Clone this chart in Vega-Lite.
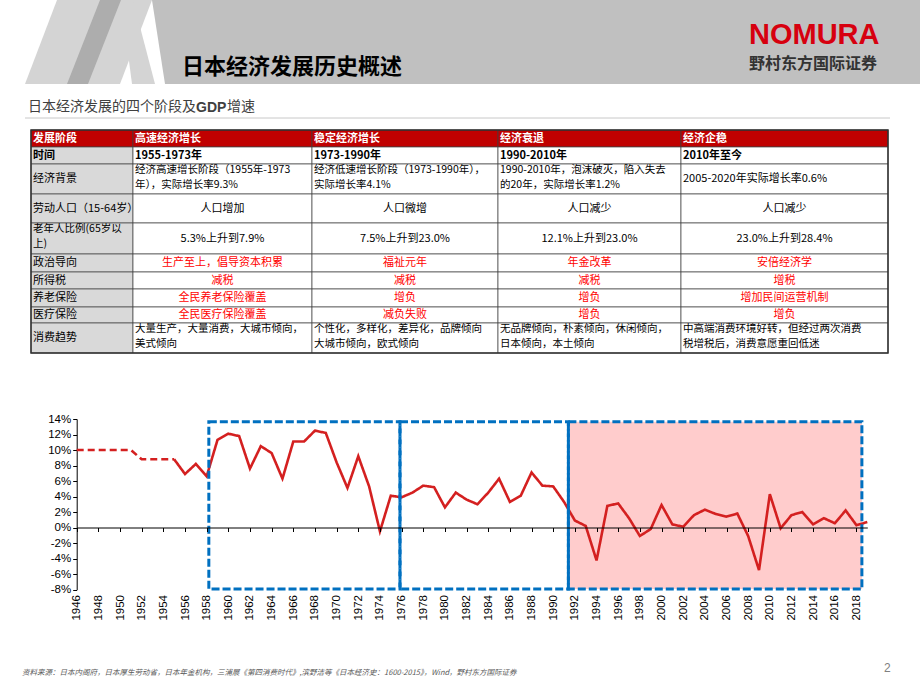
{
  "$schema": "https://vega.github.io/schema/vega-lite/v6.json",
  "width": 920,
  "height": 690,
  "autosize": {"type": "none"},
  "padding": 0,
  "background": "white",
  "config": {"view": {"stroke": null}},
  "datasets": {
    "deco": [
      {"s": "D", "y": 0, "xl": 152, "xr": 920}, {"s": "D", "y": 84, "xl": 165, "xr": 920},
      {"s": "A", "y": 0, "xl": 57, "xr": 152}, {"s": "A", "y": 84, "xl": 25, "xr": 120},
      {"s": "E", "y": 0, "xl": 121, "xr": 133}, {"s": "E", "y": 84, "xl": 132, "xr": 155},
      {"s": "B", "y": 0, "xl": 100, "xr": 121}, {"s": "B", "y": 84, "xl": 67, "xr": 88}
    ],
    "cells": [
      {"r": 0, "c": 0, "t": "发展阶段"}, {"r": 0, "c": 1, "t": "高速经济增长"}, {"r": 0, "c": 2, "t": "稳定经济增长"}, {"r": 0, "c": 3, "t": "经济衰退"}, {"r": 0, "c": 4, "t": "经济企稳"},
      {"r": 1, "c": 0, "t": "时间"}, {"r": 1, "c": 1, "t": "1955-1973年"}, {"r": 1, "c": 2, "t": "1973-1990年"}, {"r": 1, "c": 3, "t": "1990-2010年"}, {"r": 1, "c": 4, "t": "2010年至今"},
      {"r": 2, "c": 0, "t": "经济背景"}, {"r": 2, "c": 1, "t": "经济高速增长阶段（1955年-1973\n年），实际增长率9.3%"}, {"r": 2, "c": 2, "t": "经济低速增长阶段（1973-1990年），\n实际增长率4.1%"}, {"r": 2, "c": 3, "t": "1990-2010年，泡沫破灭，陷入失去\n的20年，实际增长率1.2%"}, {"r": 2, "c": 4, "t": "2005-2020年实际增长率0.6%"},
      {"r": 3, "c": 0, "t": "劳动人口（15-64岁）"}, {"r": 3, "c": 1, "t": "人口增加"}, {"r": 3, "c": 2, "t": "人口微增"}, {"r": 3, "c": 3, "t": "人口减少"}, {"r": 3, "c": 4, "t": "人口减少"},
      {"r": 4, "c": 0, "t": "老年人比例(65岁以\n上)"}, {"r": 4, "c": 1, "t": "5.3%上升到7.9%"}, {"r": 4, "c": 2, "t": "7.5%上升到23.0%"}, {"r": 4, "c": 3, "t": "12.1%上升到23.0%"}, {"r": 4, "c": 4, "t": "23.0%上升到28.4%"},
      {"r": 5, "c": 0, "t": "政治导向"}, {"r": 5, "c": 1, "t": "生产至上，倡导资本积累"}, {"r": 5, "c": 2, "t": "福祉元年"}, {"r": 5, "c": 3, "t": "年金改革"}, {"r": 5, "c": 4, "t": "安倍经济学"},
      {"r": 6, "c": 0, "t": "所得税"}, {"r": 6, "c": 1, "t": "减税"}, {"r": 6, "c": 2, "t": "减税"}, {"r": 6, "c": 3, "t": "减税"}, {"r": 6, "c": 4, "t": "增税"},
      {"r": 7, "c": 0, "t": "养老保险"}, {"r": 7, "c": 1, "t": "全民养老保险覆盖"}, {"r": 7, "c": 2, "t": "增负"}, {"r": 7, "c": 3, "t": "增负"}, {"r": 7, "c": 4, "t": "增加民间运营机制"},
      {"r": 8, "c": 0, "t": "医疗保险"}, {"r": 8, "c": 1, "t": "全民医疗保险覆盖"}, {"r": 8, "c": 2, "t": "减负失败"}, {"r": 8, "c": 3, "t": "增负"}, {"r": 8, "c": 4, "t": "增负"},
      {"r": 9, "c": 0, "t": "消费趋势"}, {"r": 9, "c": 1, "t": "大量生产，大量消费，大城市倾向，\n美式倾向"}, {"r": 9, "c": 2, "t": "个性化，多样化，差异化，品牌倾向\n大城市倾向，欧式倾向"}, {"r": 9, "c": 3, "t": "无品牌倾向，朴素倾向，休闲倾向，\n日本倾向，本土倾向"}, {"r": 9, "c": 4, "t": "中高端消费环境好转，但经过两次消费\n税增税后，消费意愿重回低迷"}
    ],
    "gdp": [
      {"year": 1946, "g": 10.0, "seg": "est"}, {"year": 1947, "g": 10.0, "seg": "est"}, {"year": 1948, "g": 10.0, "seg": "est"}, {"year": 1949, "g": 10.0, "seg": "est"}, {"year": 1950, "g": 10.0, "seg": "est"}, {"year": 1951, "g": 10.0, "seg": "est"}, {"year": 1952, "g": 8.8, "seg": "est"}, {"year": 1953, "g": 8.8, "seg": "est"}, {"year": 1954, "g": 8.8, "seg": "est"}, {"year": 1955, "g": 8.8, "seg": "est"},
      {"year": 1955, "g": 8.8, "seg": "act"}, {"year": 1956, "g": 6.9, "seg": "act"}, {"year": 1957, "g": 8.2, "seg": "act"}, {"year": 1958, "g": 6.6, "seg": "act"}, {"year": 1959, "g": 11.3, "seg": "act"}, {"year": 1960, "g": 12.1, "seg": "act"}, {"year": 1961, "g": 11.8, "seg": "act"}, {"year": 1962, "g": 7.6, "seg": "act"}, {"year": 1963, "g": 10.5, "seg": "act"}, {"year": 1964, "g": 9.6, "seg": "act"},
      {"year": 1965, "g": 6.3, "seg": "act"}, {"year": 1966, "g": 11.1, "seg": "act"}, {"year": 1967, "g": 11.1, "seg": "act"}, {"year": 1968, "g": 12.5, "seg": "act"}, {"year": 1969, "g": 12.2, "seg": "act"}, {"year": 1970, "g": 8.4, "seg": "act"}, {"year": 1971, "g": 5.1, "seg": "act"}, {"year": 1972, "g": 9.2, "seg": "act"}, {"year": 1973, "g": 5.3, "seg": "act"}, {"year": 1974, "g": -0.5, "seg": "act"},
      {"year": 1975, "g": 4.1, "seg": "act"}, {"year": 1976, "g": 3.9, "seg": "act"}, {"year": 1977, "g": 4.5, "seg": "act"}, {"year": 1978, "g": 5.4, "seg": "act"}, {"year": 1979, "g": 5.2, "seg": "act"}, {"year": 1980, "g": 2.6, "seg": "act"}, {"year": 1981, "g": 4.5, "seg": "act"}, {"year": 1982, "g": 3.6, "seg": "act"}, {"year": 1983, "g": 3.0, "seg": "act"}, {"year": 1984, "g": 4.5, "seg": "act"},
      {"year": 1985, "g": 6.3, "seg": "act"}, {"year": 1986, "g": 3.3, "seg": "act"}, {"year": 1987, "g": 4.1, "seg": "act"}, {"year": 1988, "g": 7.1, "seg": "act"}, {"year": 1989, "g": 5.4, "seg": "act"}, {"year": 1990, "g": 5.3, "seg": "act"}, {"year": 1991, "g": 3.3, "seg": "act"}, {"year": 1992, "g": 0.9, "seg": "act"}, {"year": 1993, "g": 0.2, "seg": "act"}, {"year": 1994, "g": -4.25, "seg": "act"},
      {"year": 1995, "g": 2.8, "seg": "act"}, {"year": 1996, "g": 3.1, "seg": "act"}, {"year": 1997, "g": 1.2, "seg": "act"}, {"year": 1998, "g": -1.1, "seg": "act"}, {"year": 1999, "g": -0.2, "seg": "act"}, {"year": 2000, "g": 2.9, "seg": "act"}, {"year": 2001, "g": 0.4, "seg": "act"}, {"year": 2002, "g": 0.1, "seg": "act"}, {"year": 2003, "g": 1.6, "seg": "act"}, {"year": 2004, "g": 2.3, "seg": "act"},
      {"year": 2005, "g": 1.75, "seg": "act"}, {"year": 2006, "g": 1.4, "seg": "act"}, {"year": 2007, "g": 1.8, "seg": "act"}, {"year": 2008, "g": -1.1, "seg": "act"}, {"year": 2009, "g": -5.5, "seg": "act"}, {"year": 2010, "g": 4.3, "seg": "act"}, {"year": 2011, "g": -0.1, "seg": "act"}, {"year": 2012, "g": 1.6, "seg": "act"}, {"year": 2013, "g": 2.0, "seg": "act"}, {"year": 2014, "g": 0.4, "seg": "act"},
      {"year": 2015, "g": 1.2, "seg": "act"}, {"year": 2016, "g": 0.55, "seg": "act"}, {"year": 2017, "g": 2.2, "seg": "act"}, {"year": 2018, "g": 0.3, "seg": "act"}, {"year": 2019, "g": 0.7, "seg": "act"}
    ],
    "boxes": [
      {"box": "A", "from": 1958.2, "to": 1975.85},
      {"box": "B", "from": 1975.85, "to": 1991.4},
      {"box": "C", "from": 1991.4, "to": 2018.5}
    ]
  },
  "layer": [
    {
      "data": {"name": "deco"},
      "transform": [{"filter": "datum.s == 'D'"}],
      "mark": {"type": "area", "orient": "horizontal", "color": "#c0c0c0"},
      "encoding": {
        "y": {"field": "y", "type": "quantitative", "scale": {"domain": [0, 690], "range": [0, 690], "nice": false, "zero": false}, "axis": null},
        "x": {"field": "xl", "type": "quantitative", "scale": {"domain": [0, 920], "range": [0, 920], "nice": false, "zero": false}, "axis": null},
        "x2": {"field": "xr"}
      }
    },
    {
      "data": {"name": "deco"},
      "transform": [{"filter": "datum.s == 'A' || datum.s == 'E'"}],
      "mark": {"type": "area", "orient": "horizontal", "color": "#d4d4d4"},
      "encoding": {
        "y": {"field": "y", "type": "quantitative", "scale": {"domain": [0, 690], "range": [0, 690], "nice": false, "zero": false}, "axis": null},
        "x": {"field": "xl", "type": "quantitative", "scale": {"domain": [0, 920], "range": [0, 920], "nice": false, "zero": false}, "axis": null},
        "x2": {"field": "xr"},
        "detail": {"field": "s", "type": "nominal"}
      }
    },
    {
      "data": {"name": "deco"},
      "transform": [{"filter": "datum.s == 'B'"}],
      "mark": {"type": "area", "orient": "horizontal", "color": "#adadad"},
      "encoding": {
        "y": {"field": "y", "type": "quantitative", "scale": {"domain": [0, 690], "range": [0, 690], "nice": false, "zero": false}, "axis": null},
        "x": {"field": "xl", "type": "quantitative", "scale": {"domain": [0, 920], "range": [0, 920], "nice": false, "zero": false}, "axis": null},
        "x2": {"field": "xr"}
      }
    },
    {
      "data": {"values": [{}]},
      "mark": {"type": "text", "text": "日本经济发展历史概述", "font": "Noto Sans CJK SC", "fontWeight": "bold", "fontSize": 22, "color": "#000000", "align": "left", "baseline": "middle"},
      "encoding": {"x": {"value": 182}, "y": {"value": 67}}
    },
    {
      "data": {"values": [{}]},
      "mark": {"type": "text", "text": "NOMURA", "font": "Liberation Sans", "fontWeight": "bold", "fontSize": 29, "color": "#d7000f", "align": "left", "baseline": "alphabetic"},
      "encoding": {"x": {"value": 749}, "y": {"value": 44}}
    },
    {
      "data": {"values": [{}]},
      "mark": {"type": "text", "text": "野村东方国际证券", "font": "Noto Sans CJK SC", "fontWeight": "bold", "fontSize": 16, "color": "#333333", "align": "left", "baseline": "middle"},
      "encoding": {"x": {"value": 749}, "y": {"value": 63.5}}
    },
    {
      "data": {"values": [{}]},
      "mark": {"type": "text", "text": "日本经济发展的四个阶段及", "font": "Noto Sans CJK SC", "fontSize": 14, "color": "#404040", "align": "left", "baseline": "middle"},
      "encoding": {"x": {"value": 28}, "y": {"value": 107}}
    },
    {
      "data": {"values": [{}]},
      "mark": {"type": "text", "text": "GDP", "font": "Liberation Sans", "fontWeight": "bold", "fontSize": 14, "color": "#404040", "align": "left", "baseline": "middle"},
      "encoding": {"x": {"value": 196}, "y": {"value": 108}}
    },
    {
      "data": {"values": [{}]},
      "mark": {"type": "text", "text": "增速", "font": "Noto Sans CJK SC", "fontSize": 14, "color": "#404040", "align": "left", "baseline": "middle"},
      "encoding": {"x": {"value": 227}, "y": {"value": 107}}
    },
    {
      "data": {"values": [{}]},
      "mark": {"type": "rule", "color": "#c8c8c8", "strokeWidth": 1},
      "encoding": {"x": {"value": 25}, "x2": {"value": 890}, "y": {"value": 118}}
    },
    {
      "data": {"name": "cells"},
      "transform": [{"calculate": "datum.c + 1", "as": "c1"}, {"calculate": "datum.r + 1", "as": "r1"}],
      "mark": {"type": "rect", "stroke": "#404040", "strokeWidth": 0.7},
      "encoding": {
        "x": {"field": "c", "type": "quantitative", "scale": {"domain": [0, 1, 2, 3, 4, 5], "range": [31, 133, 312, 498, 681, 888], "nice": false, "zero": false}, "axis": null},
        "x2": {"field": "c1"},
        "y": {"field": "r", "type": "quantitative", "scale": {"domain": [0, 1, 2, 3, 4, 5, 6, 7, 8, 9, 10], "range": [130, 147, 164, 194, 223, 254, 272, 289, 307, 323, 353], "nice": false, "zero": false}, "axis": null},
        "y2": {"field": "r1"},
        "fill": {"condition": [{"test": "datum.r == 0", "value": "#c00000"}, {"test": "datum.c == 0", "value": "#d9d9d9"}], "value": "#ffffff"}
      }
    },
    {
      "data": {"values": [{}]},
      "mark": {"type": "rect", "filled": false, "stroke": "#303030", "strokeWidth": 1.5},
      "encoding": {
        "x": {"datum": 0, "type": "quantitative", "scale": {"domain": [0, 1, 2, 3, 4, 5], "range": [31, 133, 312, 498, 681, 888], "nice": false, "zero": false}, "axis": null},
        "x2": {"datum": 5},
        "y": {"datum": 0, "type": "quantitative", "scale": {"domain": [0, 1, 2, 3, 4, 5, 6, 7, 8, 9, 10], "range": [130, 147, 164, 194, 223, 254, 272, 289, 307, 323, 353], "nice": false, "zero": false}, "axis": null},
        "y2": {"datum": 10}
      }
    },
    {
      "data": {"name": "cells"},
      "transform": [{"filter": "datum.r <= 1"}, {"calculate": "datum.r + 0.5", "as": "rm"}],
      "mark": {"type": "text", "align": "left", "baseline": "middle", "dx": 2, "font": "Noto Sans CJK SC", "fontWeight": "bold", "fontSize": 11},
      "encoding": {
        "x": {"field": "c", "type": "quantitative", "scale": {"domain": [0, 1, 2, 3, 4, 5], "range": [31, 133, 312, 498, 681, 888], "nice": false, "zero": false}, "axis": null},
        "y": {"field": "rm", "type": "quantitative", "scale": {"domain": [0, 1, 2, 3, 4, 5, 6, 7, 8, 9, 10], "range": [130, 147, 164, 194, 223, 254, 272, 289, 307, 323, 353], "nice": false, "zero": false}, "axis": null},
        "text": {"field": "t", "type": "nominal"},
        "color": {"condition": {"test": "datum.r == 0", "value": "#ffffff"}, "value": "#000000"}
      }
    },
    {
      "data": {"name": "cells"},
      "transform": [{"filter": "datum.r >= 2 && (datum.c == 0 || datum.r == 2 || datum.r == 9) && indexof(datum.t, '\\n') < 0"}, {"calculate": "datum.r + 0.5", "as": "rm"}],
      "mark": {"type": "text", "align": "left", "baseline": "middle", "dx": 2, "font": "Noto Sans CJK SC", "fontSize": 11, "color": "#000000"},
      "encoding": {
        "x": {"field": "c", "type": "quantitative", "scale": {"domain": [0, 1, 2, 3, 4, 5], "range": [31, 133, 312, 498, 681, 888], "nice": false, "zero": false}, "axis": null},
        "y": {"field": "rm", "type": "quantitative", "scale": {"domain": [0, 1, 2, 3, 4, 5, 6, 7, 8, 9, 10], "range": [130, 147, 164, 194, 223, 254, 272, 289, 307, 323, 353], "nice": false, "zero": false}, "axis": null},
        "text": {"field": "t", "type": "nominal"}
      }
    },
    {
      "data": {"name": "cells"},
      "transform": [{"filter": "indexof(datum.t, '\\n') >= 0"}],
      "mark": {"type": "text", "align": "left", "baseline": "top", "dx": 2, "dy": 0.5, "font": "Noto Sans CJK SC", "fontSize": 10.5, "lineBreak": "\n", "lineHeight": 15.5, "color": "#000000"},
      "encoding": {
        "x": {"field": "c", "type": "quantitative", "scale": {"domain": [0, 1, 2, 3, 4, 5], "range": [31, 133, 312, 498, 681, 888], "nice": false, "zero": false}, "axis": null},
        "y": {"field": "r", "type": "quantitative", "scale": {"domain": [0, 1, 2, 3, 4, 5, 6, 7, 8, 9, 10], "range": [130, 147, 164, 194, 223, 254, 272, 289, 307, 323, 353], "nice": false, "zero": false}, "axis": null},
        "text": {"field": "t", "type": "nominal"}
      }
    },
    {
      "data": {"name": "cells"},
      "transform": [{"filter": "datum.c > 0 && datum.r >= 3 && datum.r <= 8"}, {"calculate": "datum.r + 0.5", "as": "rm"}, {"calculate": "datum.c + 0.5", "as": "cm"}],
      "mark": {"type": "text", "align": "center", "baseline": "middle", "font": "Noto Sans CJK SC", "fontSize": 11},
      "encoding": {
        "x": {"field": "cm", "type": "quantitative", "scale": {"domain": [0, 1, 2, 3, 4, 5], "range": [31, 133, 312, 498, 681, 888], "nice": false, "zero": false}, "axis": null},
        "y": {"field": "rm", "type": "quantitative", "scale": {"domain": [0, 1, 2, 3, 4, 5, 6, 7, 8, 9, 10], "range": [130, 147, 164, 194, 223, 254, 272, 289, 307, 323, 353], "nice": false, "zero": false}, "axis": null},
        "text": {"field": "t", "type": "nominal"},
        "color": {"condition": {"test": "datum.r >= 5", "value": "#ff0000"}, "value": "#000000"}
      }
    },
    {
      "data": {"name": "boxes"},
      "transform": [{"filter": "datum.box == 'C'"}],
      "mark": {"type": "rect", "fill": "#ffcccc"},
      "encoding": {
        "x": {"field": "from", "type": "quantitative", "scale": {"domain": [1946, 2019], "range": [76.7, 867.3], "nice": false, "zero": false}, "axis": null},
        "x2": {"field": "to"},
        "y": {"datum": 13.65, "type": "quantitative", "scale": {"domain": [-8, 14], "range": [589.5, 419], "nice": false, "zero": false}, "axis": null},
        "y2": {"datum": -7.95}
      }
    },
    {
      "data": {"name": "gdp"},
      "mark": {"type": "line", "color": "#d42020", "strokeWidth": 2.6},
      "encoding": {
        "x": {"field": "year", "type": "quantitative", "scale": {"domain": [1946, 2019], "range": [76.7, 867.3], "nice": false, "zero": false},
          "axis": {"orient": "bottom", "offset": -100.5, "values": [1946, 1948, 1950, 1952, 1954, 1956, 1958, 1960, 1962, 1964, 1966, 1968, 1970, 1972, 1974, 1976, 1978, 1980, 1982, 1984, 1986, 1988, 1990, 1992, 1994, 1996, 1998, 2000, 2002, 2004, 2006, 2008, 2010, 2012, 2014, 2016, 2018], "format": "d", "title": null, "grid": false, "domain": false, "ticks": false, "labelAngle": 270, "labelPadding": 5, "labelFont": "Liberation Sans", "labelFontSize": 11.5, "labelColor": "#000000", "labelFlush": false, "labelOverlap": false, "labelBound": false}},
        "y": {"field": "g", "type": "quantitative", "scale": {"domain": [-8, 14], "range": [589.5, 419], "nice": false, "zero": false},
          "axis": {"orient": "left", "offset": -76.7, "values": [-8, -6, -4, -2, 0, 2, 4, 6, 8, 10, 12, 14], "labelExpr": "datum.value + '%'", "title": null, "grid": false, "domainColor": "#000000", "tickColor": "#000000", "tickSize": 4, "labelPadding": 2, "labelFont": "Liberation Sans", "labelFontSize": 11.5, "labelColor": "#000000", "labelFlush": false, "labelOverlap": false}},
        "strokeDash": {"field": "seg", "type": "nominal", "scale": {"domain": ["est", "act"], "range": [[7, 4], [1, 0]]}, "legend": null}
      }
    },
    {
      "data": {"name": "boxes"},
      "mark": {"type": "rect", "filled": false, "stroke": "#0070c0", "strokeWidth": 3, "strokeDash": [8, 3]},
      "encoding": {
        "x": {"field": "from", "type": "quantitative", "scale": {"domain": [1946, 2019], "range": [76.7, 867.3], "nice": false, "zero": false},
          "axis": {"orient": "bottom", "offset": -162.5, "values": [1946, 1948, 1950, 1952, 1954, 1956, 1958, 1960, 1962, 1964, 1966, 1968, 1970, 1972, 1974, 1976, 1978, 1980, 1982, 1984, 1986, 1988, 1990, 1992, 1994, 1996, 1998, 2000, 2002, 2004, 2006, 2008, 2010, 2012, 2014, 2016, 2018], "labels": false, "ticks": true, "tickSize": 4, "tickColor": "#000000", "domain": true, "domainColor": "#000000", "domainWidth": 1, "grid": false, "title": null, "zindex": 1}},
        "x2": {"field": "to"},
        "y": {"datum": 13.65, "type": "quantitative", "scale": {"domain": [-8, 14], "range": [589.5, 419], "nice": false, "zero": false}, "axis": null},
        "y2": {"datum": -7.95}
      }
    },
    {
      "data": {"values": [{}]},
      "mark": {"type": "text", "text": "资料来源：日本内阁府，日本厚生劳动省，日本年金机构，三浦展《第四消费时代》,滨野洁等《日本经济史：1600-2015》，Wind，野村东方国际证券", "font": "Noto Sans CJK SC", "fontStyle": "italic", "fontSize": 7.5, "color": "#595959", "align": "left", "baseline": "middle"},
      "encoding": {"x": {"value": 22}, "y": {"value": 673}}
    },
    {
      "data": {"values": [{}]},
      "mark": {"type": "text", "text": "2", "font": "Liberation Sans", "fontSize": 12, "color": "#808080", "align": "left", "baseline": "middle"},
      "encoding": {"x": {"value": 884}, "y": {"value": 668}}
    }
  ],
  "resolve": {
    "scale": {"x": "independent", "y": "independent", "color": "independent", "fill": "independent", "strokeDash": "independent"},
    "axis": {"x": "independent", "y": "independent"}
  }
}
